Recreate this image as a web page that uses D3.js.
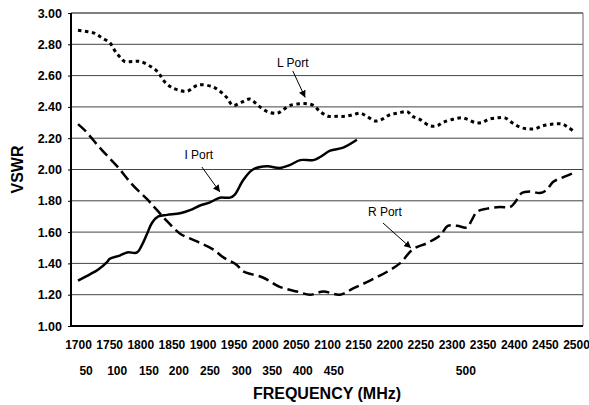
<!DOCTYPE html>
<html><head><meta charset="utf-8">
<script src="https://cdn.jsdelivr.net/npm/d3@7"></script>
<style>
html,body{margin:0;padding:0;background:#fff;}
svg{display:block;font-family:Arial,"Liberation Sans",sans-serif;}
</style></head>
<body>
<svg id="chart" width="589" height="405"></svg>
<script>
// ---- data ----
const freqTicks = [1700,1750,1800,1850,1900,1950,2000,2050,2100,2150,2200,2250,2300,2350,2400,2450,2500];
const vswrTicks = [1.0,1.2,1.4,1.6,1.8,2.0,2.2,2.4,2.6,2.8,3.0];
const ifLabels = ["50","100","150","200","250","300","350","400","450","500"];
const ifAt = [1713,1763,1814,1862,1912,1963,2012,2061,2111,2323];

const lFreq = [1700,1716,1727,1739,1751,1759,1767,1775,1788,1800,1816,1829,1837,1848,1859,1875,1893,1915,1928,1939,1949,1963,1976,1989,2004,2020,2029,2041,2057,2068,2078,2089,2102,2116,2129,2142,2153,2164,2177,2188,2201,2214,2229,2237,2249,2265,2277,2286,2301,2317,2326,2338,2349,2359,2373,2386,2397,2410,2421,2434,2447,2463,2478,2487,2498];
const lVswr = [2.89,2.88,2.87,2.84,2.81,2.76,2.72,2.69,2.69,2.69,2.66,2.62,2.57,2.53,2.51,2.50,2.54,2.53,2.50,2.46,2.41,2.43,2.45,2.41,2.37,2.36,2.38,2.41,2.42,2.42,2.41,2.37,2.34,2.34,2.34,2.35,2.36,2.34,2.31,2.32,2.35,2.36,2.37,2.34,2.32,2.28,2.28,2.30,2.32,2.33,2.32,2.30,2.30,2.32,2.33,2.33,2.30,2.27,2.26,2.26,2.28,2.29,2.29,2.27,2.24];

const rFreq = [1700,1711,1737,1763,1788,1811,1827,1843,1864,1891,1917,1933,1955,1965,1997,2024,2052,2073,2094,2121,2142,2169,2198,2217,2238,2261,2282,2294,2309,2325,2333,2341,2357,2378,2394,2402,2413,2426,2442,2453,2463,2479,2497];
const rVswr = [2.29,2.25,2.13,2.02,1.90,1.81,1.74,1.67,1.59,1.54,1.49,1.44,1.39,1.35,1.31,1.25,1.22,1.20,1.22,1.20,1.24,1.29,1.35,1.40,1.49,1.53,1.58,1.64,1.64,1.63,1.68,1.73,1.75,1.76,1.76,1.79,1.85,1.86,1.85,1.87,1.92,1.95,1.98];

const iFreq = [1700,1719,1732,1747,1751,1767,1779,1795,1803,1811,1819,1829,1843,1864,1880,1896,1912,1928,1944,1952,1965,1981,2004,2024,2041,2057,2078,2089,2105,2126,2148];
const iVswr = [1.29,1.33,1.36,1.41,1.43,1.45,1.47,1.47,1.52,1.59,1.66,1.70,1.71,1.72,1.74,1.77,1.79,1.82,1.82,1.84,1.93,2.00,2.02,2.01,2.03,2.06,2.06,2.08,2.12,2.14,2.19];

const portNames = ["L Port","I Port","R Port"];
// label anchor (freq, vswr) and arrow start/end (freq, vswr)
const labelAt = [[2045,2.655],[1894,2.067],[2193,1.703]];
const arrowFrom = [[2045,2.63],[1899,2.016],[2190,1.658]];
const arrowTo = [[2065,2.46],[1928,1.856],[2235,1.498]];

// ---- layout ----
const svg = d3.select("#chart");
const plot = {left:71, right:583, top:13, bottom:326};
const x = d3.scaleLinear().domain([1700,2500]).range([78,576]);
const y = d3.scaleLinear().domain([1,3]).range([plot.bottom, plot.top]);

// gridlines
svg.append("g").selectAll("line").data(vswrTicks.filter(d=>d>1)).join("line")
  .attr("x1", plot.left).attr("x2", plot.right)
  .attr("y1", d=>y(d)).attr("y2", d=>y(d))
  .attr("stroke", d=> d===3 ? "#000" : "#444").attr("stroke-width",1);
// right border
svg.append("line").attr("x1",plot.right).attr("x2",plot.right).attr("y1",plot.top).attr("y2",plot.bottom)
  .attr("stroke","#666").attr("stroke-width",1);

// y axis
const yAxis = svg.append("g").attr("transform",`translate(${plot.left},0)`)
  .call(d3.axisLeft(y).tickValues(vswrTicks).tickFormat(d3.format(".2f")).tickSize(3).tickPadding(6));
yAxis.select(".domain").remove();
yAxis.selectAll("line").attr("stroke","#000");
yAxis.selectAll("text").attr("font-size",12.5).attr("font-weight","bold").attr("fill","#000")
  .attr("font-family","Arial, 'Liberation Sans', sans-serif");
svg.append("line").attr("x1",plot.left).attr("x2",plot.left).attr("y1",plot.top).attr("y2",plot.bottom+1)
  .attr("stroke","#000").attr("stroke-width",2);
svg.append("line").attr("x1",plot.left-1).attr("x2",plot.right).attr("y1",plot.bottom).attr("y2",plot.bottom)
  .attr("stroke","#000").attr("stroke-width",2);

// x tick labels
const xAxis = svg.append("g").attr("transform",`translate(0,${plot.bottom})`)
  .call(d3.axisBottom(x).tickValues(freqTicks).tickFormat(d3.format("d")).tickSize(0).tickPadding(14));
xAxis.select(".domain").remove();
xAxis.selectAll("text").attr("font-size",12).attr("font-weight","bold").attr("fill","#000")
  .attr("font-family","Arial, 'Liberation Sans', sans-serif");

// IF labels row
svg.append("g").selectAll("text").data(ifLabels).join("text")
  .attr("x",(d,i)=>x(ifAt[i])).attr("y",375).attr("text-anchor","middle")
  .attr("font-size",12).attr("font-weight","bold").text(d=>d);

// axis titles
svg.append("text").attr("x",(plot.left+plot.right)/2).attr("y",399).attr("text-anchor","middle")
  .attr("font-size",16).attr("font-weight","bold").text("FREQUENCY (MHz)");
svg.append("text").attr("transform",`translate(23,${(plot.top+plot.bottom)/2}) rotate(-90)`)
  .attr("text-anchor","middle").attr("font-size",16).attr("font-weight","bold").text("VSWR");

// series
const line = d3.line().x(d=>x(d[0])).y(d=>y(d[1])).curve(d3.curveCatmullRom.alpha(0.5));
const series = [
  {f:lFreq, v:lVswr, dash:"3.5,3.5", w:3},
  {f:iFreq, v:iVswr, dash:null, w:2.5},
  {f:rFreq, v:rVswr, dash:"11,5", w:2.5}
];
series.forEach(s=>{
  svg.append("path").datum(s.f.map((f,i)=>[f,s.v[i]]))
    .attr("d",line).attr("fill","none").attr("stroke","#000")
    .attr("stroke-width",s.w).attr("stroke-dasharray",s.dash);
});

// annotations
const defs = svg.append("defs");
defs.append("marker").attr("id","arr").attr("viewBox","0 0 10 10").attr("refX",10).attr("refY",5)
  .attr("markerWidth",7).attr("markerHeight",7).attr("markerUnits","userSpaceOnUse").attr("orient","auto")
  .append("path").attr("d","M0,0 L10,5 L0,10 z").attr("fill","#000");
portNames.forEach((n,i)=>{
  svg.append("text").attr("x",x(labelAt[i][0])).attr("y",y(labelAt[i][1])).attr("text-anchor","middle")
    .attr("font-size",12).text(n);
  svg.append("line").attr("x1",x(arrowFrom[i][0])).attr("y1",y(arrowFrom[i][1]))
    .attr("x2",x(arrowTo[i][0])).attr("y2",y(arrowTo[i][1]))
    .attr("stroke","#000").attr("stroke-width",1).attr("marker-end","url(#arr)");
});
</script>
</body></html>
